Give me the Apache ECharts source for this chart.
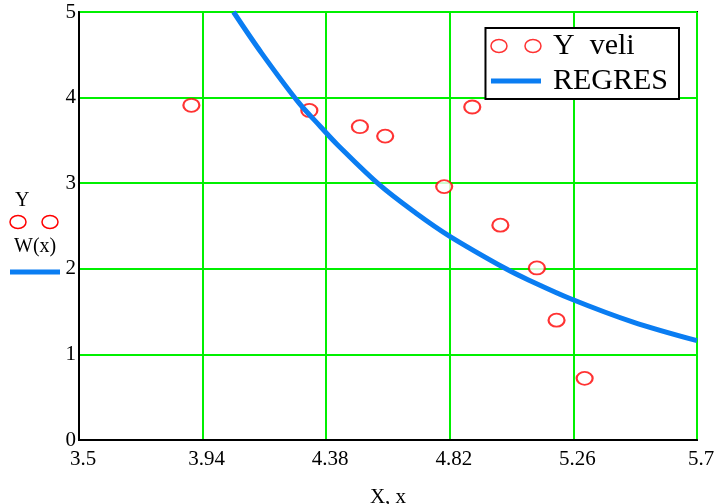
<!DOCTYPE html>
<html>
<head>
<meta charset="utf-8">
<script src="https://cdn.jsdelivr.net/npm/echarts@6/dist/echarts.min.js"></script>
<style>
	html, body { margin: 0; padding: 0; background: #fff; }
	#chart { width: 715px; height: 504px; }
</style>
</head>
<body>
<div id="chart"></div>
<script>
	// measured points (Y veli)
	var pointX = [3.9, 4.32, 4.5, 4.59, 4.8, 4.9, 5.0, 5.13, 5.2, 5.3];
	var pointY = [3.91, 3.85, 3.66, 3.55, 2.96, 3.89, 2.51, 2.01, 1.40, 0.72];

	// regression curve W(x)
	var curveX = [4.05, 4.15, 4.28, 4.36, 4.42, 4.57, 4.70, 4.82, 5.02, 5.10, 5.25, 5.47, 5.70];
	var curveY = [5.0, 4.52, 3.95, 3.66, 3.45, 2.98, 2.65, 2.38, 2.0, 1.87, 1.65, 1.38, 1.16];

	var xTicks = [3.5, 3.94, 4.38, 4.82, 5.26, 5.7];
	var yTicks = [0, 1, 2, 3, 4, 5];

	var serif = "Liberation Serif";
	var chart = echarts.init(document.getElementById("chart"));

	var scatterData = pointX.map(function (x, i) {
		return [x, pointY[i]];
	});
	var curveData = curveX.map(function (x, i) {
		return [x, curveY[i]];
	});

	chart.setOption({
		animation: false,
		backgroundColor: "#fff",
		grid: {
			left: 79,
			right: 18,
			top: 12,
			bottom: 64,
			outerBoundsMode: "none",
			show: true,
			borderColor: "#000",
			borderWidth: 2,
			backgroundColor: "#fff",
		},
		xAxis: {
			type: "value",
			min: xTicks[0],
			max: xTicks[xTicks.length - 1],
			name: "X, x",
			nameLocation: "middle",
			nameGap: 47,
			nameTextStyle: { fontFamily: serif, fontSize: 21, color: "#000" },
			axisLine: { show: true, lineStyle: { color: "#000", width: 2 } },
			axisTick: { show: false, customValues: xTicks },
			axisLabel: {
				customValues: xTicks,
				fontFamily: serif,
				fontSize: 21,
				color: "#000",
				margin: 9,
				padding: [0, 0, 0, 8],
			},
			splitLine: { show: true, lineStyle: { color: "#00f000", width: 2 } },
		},
		yAxis: {
			type: "value",
			min: yTicks[0],
			max: yTicks[yTicks.length - 1],
			interval: 1,
			axisLine: { show: true, lineStyle: { color: "#000", width: 2 } },
			axisTick: { show: false },
			axisLabel: {
				fontFamily: serif,
				fontSize: 21,
				color: "#000",
				margin: 3,
				padding: [11, 0, 0, 0],
			},
			splitLine: { show: true, lineStyle: { color: "#00f000", width: 2 } },
		},
		legend: {
			orient: "vertical",
			right: 36,
			top: 28,
			padding: [3, 11, 3, 3],
			itemGap: 5,
			itemWidth: 50,
			itemHeight: 13,
			backgroundColor: "#fff",
			borderColor: "#000",
			borderWidth: 2,
			borderRadius: 0,
			textStyle: { fontFamily: serif, fontSize: 30, color: "#000", padding: [0, 0, 0, 7] },
			data: [
				{
					name: "Y  veli",
					icon: "path://M0,6.5 A8,6.5 0 1,0 16,6.5 A8,6.5 0 1,0 0,6.5 Z M34,6.5 A8,6.5 0 1,0 50,6.5 A8,6.5 0 1,0 34,6.5 Z",
					itemStyle: { color: "none", borderColor: "#ff0000", borderWidth: 1.5 },
				},
				{
					name: "REGRES",
					icon: "path://M0,0 M50,13 M0,4 L50,4 L50,9 L0,9 Z",
					itemStyle: { color: "#0a7df2", borderWidth: 0 },
				},
			],
		},
		graphic: [
			{ type: "text", left: 15, top: 191, style: { text: "Y", font: "20px " + serif, fill: "#000" } },
			{ type: "ellipse", shape: { cx: 18, cy: 222, rx: 8, ry: 6.5 }, style: { fill: "none", stroke: "#ff0000", lineWidth: 1.5 } },
			{ type: "ellipse", shape: { cx: 50, cy: 222, rx: 8, ry: 6.5 }, style: { fill: "none", stroke: "#ff0000", lineWidth: 1.5 } },
			{ type: "text", left: 14, top: 237, style: { text: "W(x)", font: "20px " + serif, fill: "#000" } },
			{ type: "line", shape: { x1: 10, y1: 272, x2: 60, y2: 272 }, style: { stroke: "#0a7df2", lineWidth: 5 } },
		],
		series: [
			{
				name: "Y  veli",
				type: "scatter",
				symbol: "emptyCircle",
				symbolSize: [16, 13],
				itemStyle: { color: "#ff0000", borderColor: "#ff0000", borderWidth: 1.5 },
				z: 2,
				data: scatterData,
			},
			{
				name: "REGRES",
				type: "line",
				smooth: 0.35,
				showSymbol: false,
				symbol: "none",
				lineStyle: { color: "#0a7df2", width: 5 },
				itemStyle: { color: "#0a7df2" },
				z: 3,
				data: curveData,
			},
		],
	});
</script>
</body>
</html>
